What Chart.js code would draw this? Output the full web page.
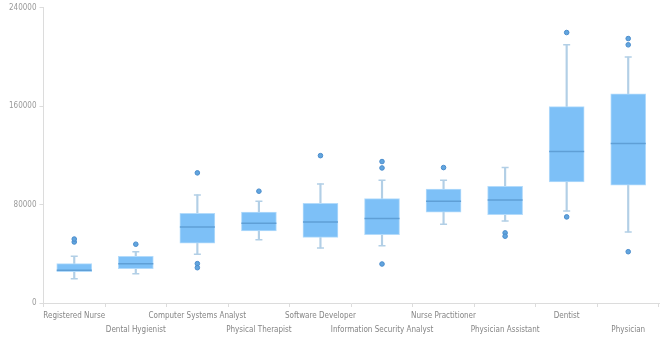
<!DOCTYPE html>
<html>
<head>
<meta charset="utf-8">
<script src="https://cdn.jsdelivr.net/npm/chart.js@4"></script>
<style>
  html, body { margin: 0; padding: 0; background: #fff; }
  #wrap { width: 670px; height: 341px; }
</style>
</head>
<body>
<div id="wrap"><canvas id="myChart" width="670" height="341"></canvas></div>
<script>
const categories = ['Registered Nurse', 'Dental Hygienist', 'Computer Systems Analyst', 'Physical Therapist',
    'Software Developer', 'Information Security Analyst', 'Nurse Practitioner', 'Physician Assistant',
    'Dentist', 'Physician'];

const whiskerLow  = [19800, 23800, 39600, 51500, 44700, 46600, 64000, 66700, 74800, 57800];
const q1          = [25500, 27900, 48600, 58600, 53400, 55600, 73800, 71900, 98400, 95800];
const median      = [26600, 32000, 61800, 64800, 65900, 68600, 82700, 83800, 123100, 129600];
const q3          = [32000, 38000, 73000, 74000, 81100, 84900, 92700, 94900, 159700, 170000];
const whiskerHigh = [38000, 41700, 87900, 82700, 96800, 99800, 99800, 110100, 209900, 199900];

const outliers = [
    [49600, 52000],
    [47800],
    [105800, 32000, 28700],
    [90900],
    [119800],
    [115000, 109800, 31700],
    [110100],
    [57000, 54300],
    [219900, 70000],
    [215000, 209900, 41700]
];

const yTicks = [0, 80000, 160000, 240000];

const fontFam = "'DejaVu Sans Condensed', 'DejaVu Sans', sans-serif";

let boxData = categories.map(function (c, i) { return [q1[i], q3[i]]; });
let whiskerData = categories.map(function (c, i) { return [whiskerLow[i], whiskerHigh[i]]; });
let outlierPts = [];
outliers.forEach(function (arr, i) {
    arr.forEach(function (v) { outlierPts.push({ x: categories[i], y: v }); });
});

const whiskerColor = '#b2cfe6';

let ctx = document.getElementById('myChart').getContext('2d');
let myChart = new Chart(ctx, {
    type: 'bar',
    data: {
        labels: categories,
        datasets: [
            {
                type: 'line',
                data: outlierPts,
                showLine: false,
                pointStyle: 'circle',
                pointRadius: 2.3,
                pointBackgroundColor: '#62a5de',
                pointBorderColor: '#4a8ccc',
                pointBorderWidth: 1,
                order: 0
            },
            {
                type: 'line',
                data: median,
                showLine: false,
                pointStyle: 'line',
                pointRadius: 17.5,
                pointBorderColor: '#5f9fd6',
                pointBorderWidth: 1.5,
                order: 1
            },
            {
                data: boxData,
                grouped: false,
                barThickness: 35,
                backgroundColor: '#7dc0f7',
                borderColor: '#b3dbfb',
                borderWidth: 1,
                borderSkipped: false,
                order: 2
            },
            {
                type: 'line',
                data: whiskerHigh,
                showLine: false,
                pointStyle: 'line',
                pointRadius: 3.5,
                pointBorderColor: whiskerColor,
                pointBorderWidth: 1.5,
                order: 3
            },
            {
                type: 'line',
                data: whiskerLow,
                showLine: false,
                pointStyle: 'line',
                pointRadius: 3.5,
                pointBorderColor: whiskerColor,
                pointBorderWidth: 1.5,
                order: 3
            },
            {
                data: whiskerData,
                grouped: false,
                barThickness: 1.5,
                backgroundColor: whiskerColor,
                borderWidth: 0,
                order: 4
            }
        ]
    },
    options: {
        responsive: false,
        animation: false,
        events: [],
        layout: { autoPadding: false, padding: { left: 6, right: 11, top: 3, bottom: 2 } },
        plugins: {
            legend: { display: false },
            tooltip: { enabled: false },
            title: { display: false }
        },
        scales: {
            x: {
                offset: true,
                grid: {
                    offset: true,
                    drawOnChartArea: false,
                    drawTicks: true,
                    tickLength: 4,
                    color: '#dcdcdc'
                },
                border: { color: '#dcdcdc' },
                ticks: {
                    autoSkip: false,
                    maxRotation: 0,
                    minRotation: 0,
                    padding: 2,
                    color: '#858585',
                    font: { family: fontFam, size: 8, lineHeight: 1.75 },
                    callback: function (val, i) {
                        let lab = categories[i];
                        return i % 2 === 1 ? ['', lab] : lab;
                    }
                }
            },
            y: {
                min: 0,
                max: 240000,
                afterBuildTicks: function (axis) {
                    axis.ticks = yTicks.map(function (v) { return { value: v }; });
                },
                grid: {
                    drawOnChartArea: false,
                    drawTicks: true,
                    tickLength: 4,
                    color: '#dcdcdc'
                },
                border: { color: '#dcdcdc' },
                ticks: {
                    padding: 3,
                    color: '#9a9a9a',
                    font: { family: fontFam, size: 8 },
                    callback: function (v) { return String(v); }
                }
            }
        }
    }
});
</script>
</body>
</html>
